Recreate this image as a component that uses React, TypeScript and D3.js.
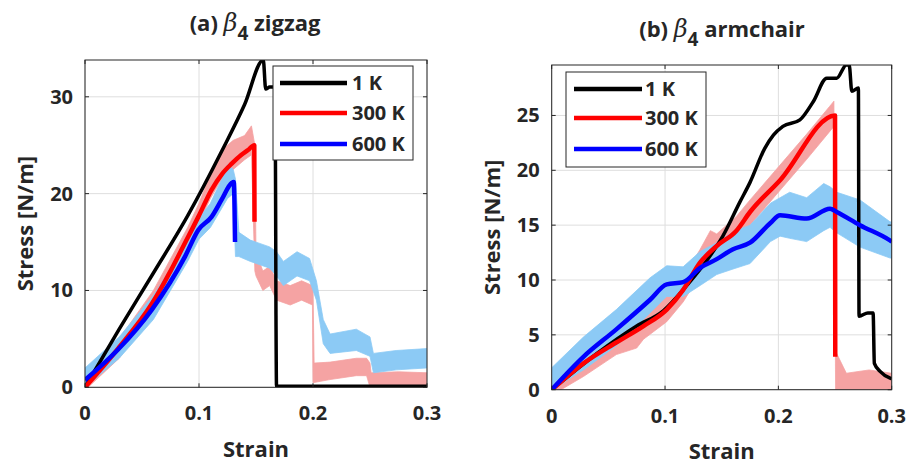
import * as d3 from "d3";

// ---- axes ----
const xTicks = [0, 0.1, 0.2, 0.3];
const zzYTicks = [0, 10, 20, 30];
const acYTicks = [0, 5, 10, 15, 20, 25];
const legendLabels = ["1 K", "300 K", "600 K"];

// ---- (a) zigzag ----
const zz1KStrain = [0, 0.03, 0.06, 0.09, 0.12, 0.14, 0.1564, 0.1585, 0.162, 0.1668, 0.1675, 0.168, 0.2, 0.25, 0.3];
const zz1KStress = [0, 6.0, 11.8, 17.7, 24.4, 29.2, 33.8, 30.8, 31.0, 31.0, 8, 0.1, 0.1, 0.1, 0.1];

const zz300Strain = [0, 0.029, 0.0585, 0.075, 0.0877, 0.0994, 0.111, 0.12, 0.1287, 0.137, 0.143, 0.1485, 0.1487];
const zz300Stress = [0, 4.0, 8.6, 12.0, 14.9, 17.6, 20.4, 22.0, 23.1, 24.0, 24.5, 25.0, 17.1];

const zz600Strain = [0, 0.029, 0.0585, 0.0877, 0.0994, 0.111, 0.12, 0.1287, 0.1305, 0.1316];
const zz600Stress = [0.75, 3.9, 8.0, 13.5, 16.25, 17.6, 19.4, 21.1, 21.2, 15.0];

const zz300BandStrain = [0, 0.03, 0.06, 0.09, 0.1, 0.11, 0.12, 0.13, 0.14, 0.146, 0.149, 0.15, 0.156, 0.162, 0.168, 0.18, 0.19, 0.1995, 0.2, 0.201, 0.215, 0.238, 0.247, 0.25, 0.251, 0.275, 0.3];
const zz300BandLo = [-0.3, 3, 8, 14.5, 17, 19.5, 21.5, 22.5, 23.5, 24, 12, 11.5, 10, 10.5, 9, 8.5, 9, 8.5, 0.5, 0.5, 0.8, 1.2, 1.2, 0, 0, 0, 0];
const zz300BandHi = [1.2, 5, 10, 16.5, 19, 22, 24.5, 25.5, 26, 27, 25, 14, 12, 12.5, 11, 10.5, 11, 10.5, 10, 2.5, 2.6, 3, 3, 2.5, 1.5, 1.6, 1.5];

const zz600BandStrain = [0, 0.03, 0.06, 0.09, 0.1, 0.11, 0.12, 0.125, 0.13, 0.132, 0.135, 0.145, 0.162, 0.168, 0.174, 0.186, 0.197, 0.203, 0.209, 0.215, 0.238, 0.25, 0.253, 0.273, 0.3];
const zz600BandLo = [0, 3, 7, 13, 15.3, 16.5, 18.5, 19.5, 20, 13.5, 13.5, 13, 12.3, 11.5, 10.5, 11.5, 11, 9, 4.5, 3.5, 3.8, 3.2, 1.5, 1.8, 2];
const zz600BandHi = [2, 5.2, 9.5, 15, 17.5, 19, 21.5, 23, 22.5, 21.5, 16, 15.2, 14.5, 14, 13, 14, 13.3, 11, 7, 5.5, 6, 5.2, 3.5, 3.8, 4];

// ---- (b) armchair ----
const ac1KStrain = [0, 0.04, 0.075, 0.0985, 0.12, 0.137, 0.151, 0.166, 0.175, 0.188, 0.1956, 0.204, 0.219, 0.231, 0.2427, 0.2515, 0.26, 0.2625, 0.2648, 0.2706, 0.2712, 0.279, 0.2836, 0.2847, 0.29, 0.2986, 0.3];
const ac1KStress = [0, 3.3, 5.8, 7.2, 9.6, 11.8, 14.0, 17.1, 18.9, 22.0, 23.2, 24.0, 24.6, 26.3, 28.4, 28.4, 29.6, 29.6, 27.2, 27.5, 6.7, 7.0, 7.0, 2.4, 1.65, 1.05, 1.0];

const ac300Strain = [0, 0.028, 0.057, 0.081, 0.1015, 0.116, 0.131, 0.1456, 0.163, 0.175, 0.2015, 0.25, 0.2502];
const ac300Stress = [0, 2.4, 4.3, 5.8, 7.3, 9.1, 11.6, 13.1, 14.5, 16.2, 19.1, 25.0, 3.0];

const ac600Strain = [0, 0.028, 0.057, 0.0868, 0.1015, 0.116, 0.131, 0.1456, 0.16, 0.175, 0.193, 0.2015, 0.225, 0.2456, 0.2515, 0.272, 0.2986, 0.3];
const ac600Stress = [0, 3.0, 5.5, 8.2, 9.6, 9.8, 11.1, 11.9, 12.8, 13.4, 15.2, 15.9, 15.6, 16.5, 16.2, 15.0, 13.6, 13.5];

const ac300BandStrain = [0, 0.028, 0.057, 0.075, 0.081, 0.1015, 0.116, 0.131, 0.14, 0.1456, 0.163, 0.175, 0.2, 0.225, 0.245, 0.249, 0.2505, 0.26, 0.28, 0.3];
const ac300BandLo = [-0.5, 1.2, 3.2, 3.8, 4.6, 6.2, 8, 10.5, 11.8, 12.2, 13.5, 15, 18, 21, 23.5, 24, 0, 0, 0, 0];
const ac300BandHi = [1, 3.6, 5.3, 6.3, 7, 8.5, 10.2, 12.8, 14.5, 14.2, 15.8, 17.3, 20.3, 23.3, 25.8, 26.3, 3.5, 1.5, 1.8, 1.5];

const ac600BandStrain = [0, 0.028, 0.057, 0.0868, 0.1015, 0.116, 0.131, 0.1456, 0.16, 0.175, 0.193, 0.2015, 0.21, 0.225, 0.24, 0.2456, 0.2515, 0.272, 0.2986, 0.3];
const ac600BandLo = [0, 1.8, 4, 7, 8.5, 8.5, 9.5, 10.5, 11, 11.5, 13.5, 14, 13.8, 13.5, 14.5, 14.8, 14.3, 13, 12, 12];
const ac600BandHi = [2, 4.8, 7.3, 10.2, 11.3, 11.2, 12.6, 13.4, 14.4, 15, 17, 17.5, 18, 17.5, 18.8, 18.5, 18, 17.3, 15.3, 15.3];

const BLACK = "#000000";
const RED = "#ff0000";
const BLUE = "#0000ff";
const PINK = "#f5a3a3";
const SKY = "#8ccaf5";
const AXIS = "#262626";
const FONT = "'Open Sans', sans-serif";

type Line = { strain: number[]; stress: number[]; color: string; width: number };
type Band = { strain: number[]; lo: number[]; hi: number[]; color: string };

function Panel(props: {
  id: string;
  left: number; top: number; right: number; bottom: number;
  yMax: number; yTicks: number[];
  lines: Line[]; bands: Band[];
  title: [string, string];
  titleX: number; titleY: number;
  legend: { x: number; y: number; w: number; h: number; rows: number[]; lineX0: number; lineX1: number; textX: number };
  yLabelX: number; xLabelY: number;
}) {
  const { left, top, right, bottom } = props;
  const x = d3.scaleLinear().domain([0, 0.3]).range([left, right]);
  const y = d3.scaleLinear().domain([0, props.yMax]).range([bottom, top]);
  const path = (s: number[], v: number[]) =>
    d3.line<number>().x((d) => x(d)).y((_, i) => y(v[i])).curve(d3.curveMonotoneX)(s) || "";
  const area = (s: number[], lo: number[], hi: number[]) =>
    d3.area<number>().x((d) => x(d)).y0((_, i) => y(lo[i])).y1((_, i) => y(hi[i]))(s) || "";
  const lg = props.legend;
  const colors = [BLACK, RED, BLUE];
  return (
    <g>
      <defs>
        <clipPath id={props.id}>
          <rect x={left} y={top} width={right - left} height={bottom - top} />
        </clipPath>
      </defs>
      <rect x={left} y={top} width={right - left} height={bottom - top} fill="#fff" />
      {xTicks.map((t) => (
        <line key={"gx" + t} x1={x(t)} x2={x(t)} y1={top} y2={bottom} stroke="#dedede" strokeWidth={1} />
      ))}
      {props.yTicks.map((t) => (
        <line key={"gy" + t} x1={left} x2={right} y1={y(t)} y2={y(t)} stroke="#dedede" strokeWidth={1} />
      ))}
      <g clipPath={`url(#${props.id})`}>
        {props.bands.map((b, i) => (
          <path key={"b" + i} d={area(b.strain, b.lo, b.hi)} fill={b.color} stroke={b.color} strokeWidth={0.8} />
        ))}
        {props.lines.map((l, i) => (
          <path key={"l" + i} d={path(l.strain, l.stress)} fill="none" stroke={l.color} strokeWidth={l.width} strokeLinejoin="round" />
        ))}
      </g>
      {xTicks.map((t) => (
        <g key={"tx" + t}>
          <line x1={x(t)} x2={x(t)} y1={bottom} y2={bottom - 4} stroke={AXIS} />
          <line x1={x(t)} x2={x(t)} y1={top} y2={top + 4} stroke={AXIS} />
          <text x={x(t)} y={bottom + 33} textAnchor="middle" fontSize={20} fontWeight="bold" fill={AXIS}>
            {t === 0 ? "0" : String(t)}
          </text>
        </g>
      ))}
      {props.yTicks.map((t) => (
        <g key={"ty" + t}>
          <line x1={left} x2={left + 4} y1={y(t)} y2={y(t)} stroke={AXIS} />
          <line x1={right} x2={right - 4} y1={y(t)} y2={y(t)} stroke={AXIS} />
          <text x={left - 12} y={y(t) + 7} textAnchor="end" fontSize={20} fontWeight="bold" fill={AXIS}>
            {t}
          </text>
        </g>
      ))}
      <rect x={left} y={top} width={right - left} height={bottom - top} fill="none" stroke={AXIS} strokeWidth={1} />
      <g>
        <rect x={lg.x} y={lg.y} width={lg.w} height={lg.h} fill="#fff" stroke={AXIS} strokeWidth={1} />
        {legendLabels.map((lab, i) => (
          <g key={lab}>
            <line x1={lg.lineX0} x2={lg.lineX1} y1={lg.rows[i]} y2={lg.rows[i]} stroke={colors[i]} strokeWidth={4.5} />
            <text x={lg.textX} y={lg.rows[i] + 7} fontSize={20} fontWeight="bold" fill={AXIS}>
              {lab}
            </text>
          </g>
        ))}
      </g>
      <text x={props.titleX} y={props.titleY} textAnchor="middle" fontSize={22} fontWeight="bold" fill={AXIS}>
        <tspan>{props.title[0]}</tspan>
        <tspan fontFamily="'DejaVu Serif', serif" fontStyle="italic" fontWeight="normal" fontSize={24}>β</tspan>
        <tspan dy={9} fontSize={19}>4</tspan>
        <tspan dy={-9}>{props.title[1]}</tspan>
      </text>
      <text
        transform={`translate(${props.yLabelX},${(top + bottom) / 2}) rotate(-90)`}
        textAnchor="middle"
        fontSize={22}
        fontWeight="bold"
        fill={AXIS}
      >
        Stress [N/m]
      </text>
      <text x={(left + right) / 2} y={props.xLabelY} textAnchor="middle" fontSize={22} fontWeight="bold" fill={AXIS}>
        Strain
      </text>
    </g>
  );
}

export default function App() {
  return (
    <svg
      width={909}
      height={466}
      style={{ position: "fixed", left: 0, top: 0, background: "#fff" }}
      fontFamily={FONT}
    >
      <rect width={909} height={466} fill="#fff" />
      <Panel
        id="clipA"
        left={85}
        top={60}
        right={427}
        bottom={387.3}
        yMax={33.8}
        yTicks={zzYTicks}
        bands={[
          { strain: zz300BandStrain, lo: zz300BandLo, hi: zz300BandHi, color: PINK },
          { strain: zz600BandStrain, lo: zz600BandLo, hi: zz600BandHi, color: SKY },
        ]}
        lines={[
          { strain: zz1KStrain, stress: zz1KStress, color: BLACK, width: 3.5 },
          { strain: zz300Strain, stress: zz300Stress, color: RED, width: 4.5 },
          { strain: zz600Strain, stress: zz600Stress, color: BLUE, width: 4.5 },
        ]}
        title={["(a) ", " zigzag"]}
        titleX={255}
        titleY={31}
        legend={{ x: 273, y: 66, w: 140, h: 94, rows: [83, 113, 144], lineX0: 280, lineX1: 347, textX: 352 }}
        yLabelX={33}
        xLabelY={457}
      />
      <Panel
        id="clipB"
        left={551.7}
        top={65}
        right={891.7}
        bottom={389.7}
        yMax={29.6}
        yTicks={acYTicks}
        bands={[
          { strain: ac300BandStrain, lo: ac300BandLo, hi: ac300BandHi, color: PINK },
          { strain: ac600BandStrain, lo: ac600BandLo, hi: ac600BandHi, color: SKY },
        ]}
        lines={[
          { strain: ac1KStrain, stress: ac1KStress, color: BLACK, width: 3.5 },
          { strain: ac300Strain, stress: ac300Stress, color: RED, width: 4.5 },
          { strain: ac600Strain, stress: ac600Stress, color: BLUE, width: 4.5 },
        ]}
        title={["(b) ", " armchair"]}
        titleX={722}
        titleY={37}
        legend={{ x: 566, y: 72, w: 140, h: 95, rows: [89, 118, 149], lineX0: 574, lineX1: 642, textX: 645 }}
        yLabelX={500}
        xLabelY={459}
      />
    </svg>
  );
}
